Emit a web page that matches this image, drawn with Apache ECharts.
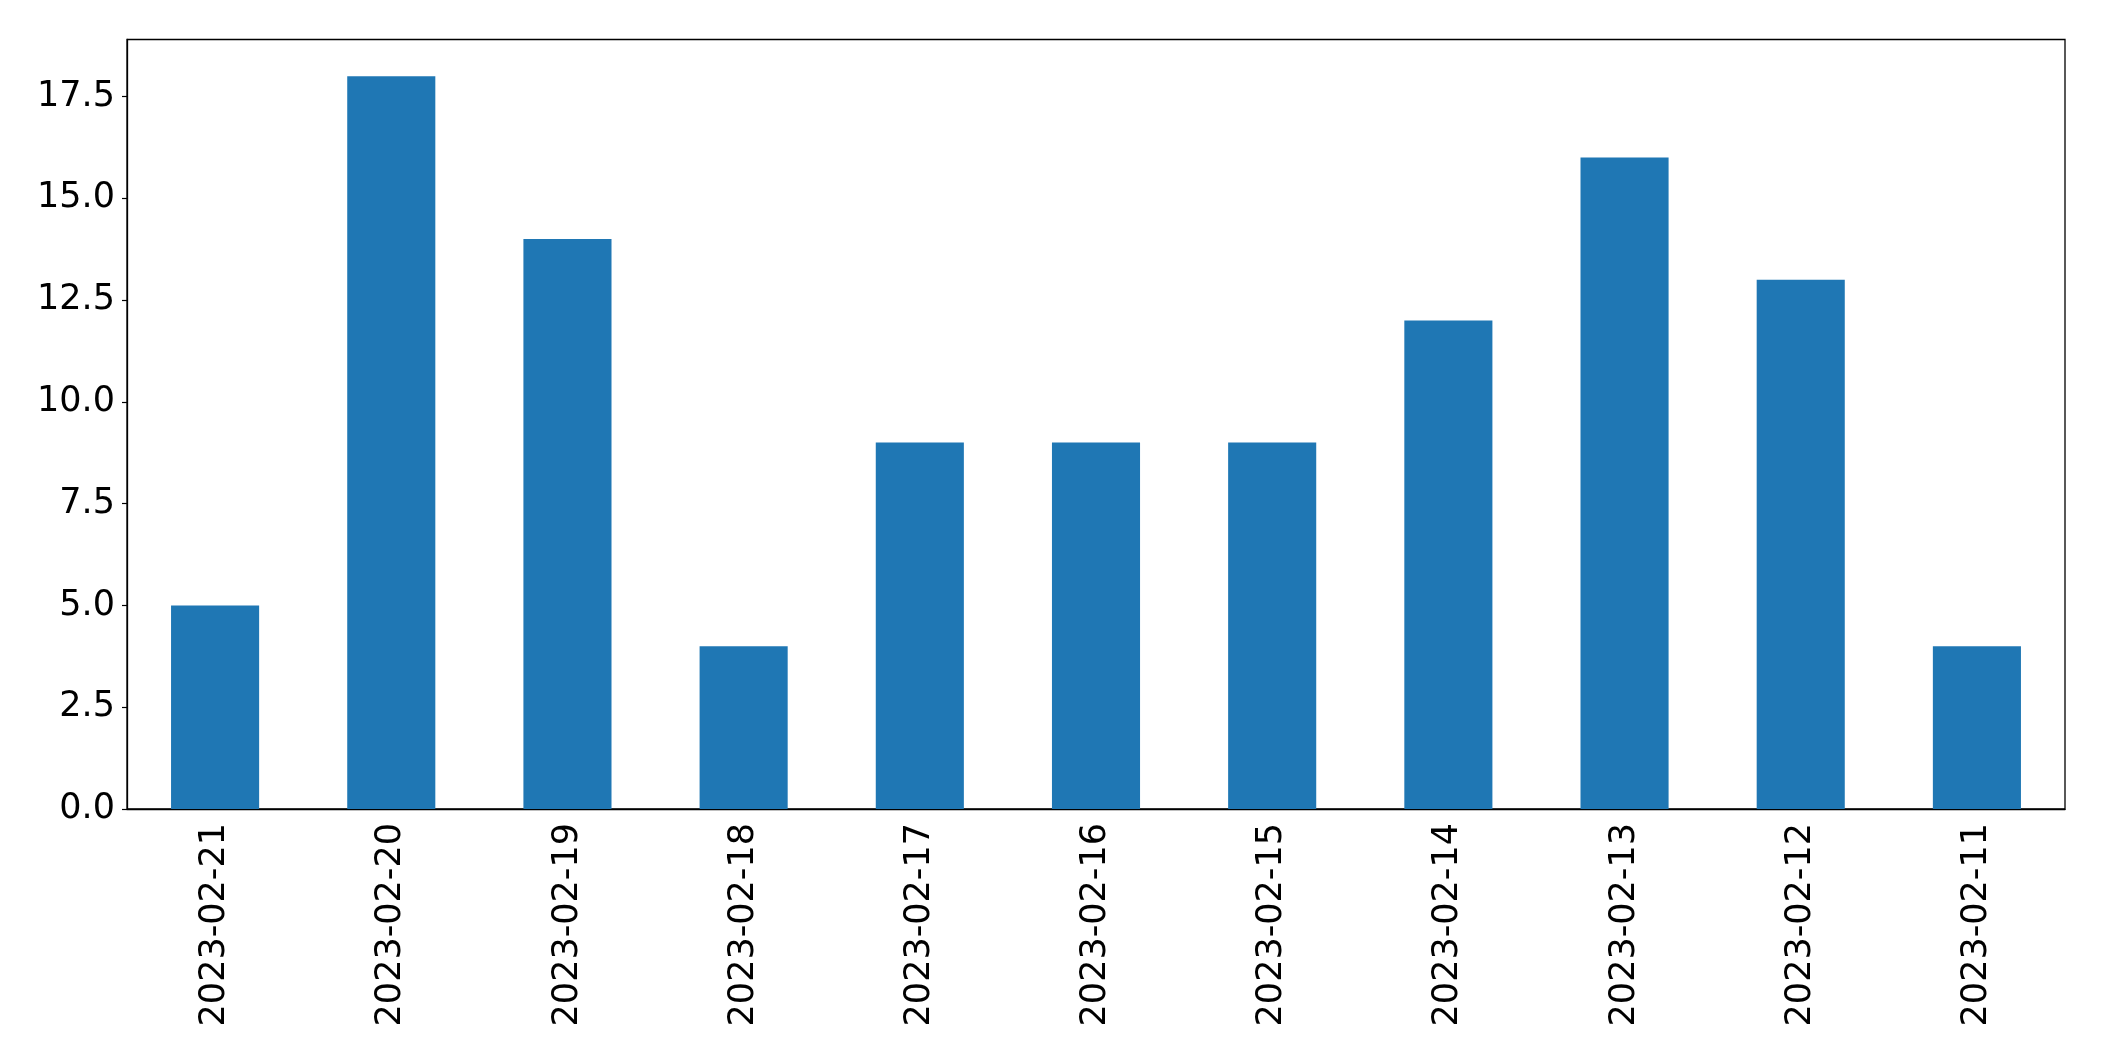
<!DOCTYPE html>
<html>
<head>
<meta charset="utf-8">
<script src="https://cdn.jsdelivr.net/npm/echarts@6/dist/echarts.min.js"></script>
<style>html,body{margin:0;padding:0;background:#fff}#c{width:2104px;height:1061px}</style>
</head>
<body>
<div id="c"></div>
<script>
const categories = ["2023-02-21","2023-02-20","2023-02-19","2023-02-18","2023-02-17","2023-02-16","2023-02-15","2023-02-14","2023-02-13","2023-02-12","2023-02-11"];
const values = [5, 18, 14, 4, 9, 9, 9, 12, 16, 13, 4];
const yMin = 0, yMax = 18.9, yStep = 2.5;

const chart = echarts.init(document.getElementById('c'), null, {renderer: 'canvas'});
const font = 'DejaVu Sans';
chart.setOption({
  animation: false,
  backgroundColor: '#fff',
  grid: {left: 127, right: 39, top: 39.5, bottom: 252, show: true, borderColor: '#000', borderWidth: 1.3, backgroundColor: 'transparent'},
  xAxis: {
    type: 'category',
    data: categories,
    axisLine: {lineStyle: {color: '#000', width: 1.3}},
    axisTick: {alignWithLabel: true, length: 5, lineStyle: {color: '#000', width: 1.2}},
    axisLabel: {rotate: 90, margin: 14, color: '#000', fontFamily: font, fontSize: 35, interval: 0}
  },
  yAxis: {
    type: 'value',
    min: yMin, max: yMax, interval: yStep,
    splitLine: {show: false},
    axisLine: {show: true, lineStyle: {color: '#000', width: 1.3}},
    axisTick: {show: true, length: 5, lineStyle: {color: '#000', width: 1.2}},
    axisLabel: {showMaxLabel: false, margin: 12, color: '#000', fontFamily: font, fontSize: 35,
      formatter: v => v.toFixed(1)}
  },
  series: [{
    type: 'bar',
    data: values,
    barWidth: '50%',
    itemStyle: {color: '#1f77b4'}
  }]
});
</script>
</body>
</html>
